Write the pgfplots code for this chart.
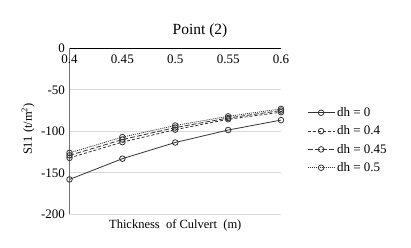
\documentclass[border=0pt]{standalone}
\usepackage{pgfplots}
\pgfplotsset{compat=1.18}
\usepackage{fontspec}
\setmainfont{Liberation Serif}
\begin{document}
\begin{tikzpicture}
\useasboundingbox (-69.5pt,-33.7pt) rectangle (341.5pt,214.3pt);
\begin{axis}[
  scale only axis,
  width=211.5pt, height=166pt,
  xmin=0.4, xmax=0.6, ymin=-200, ymax=0,
  axis x line*=top, axis y line*=left,
  x axis line style={-, black, line width=0.8pt},
  y axis line style={-, black!55, line width=1.3pt},
  xtick={0.4,0.45,0.5,0.55,0.6},
  xticklabels={0.4,0.45,0.5,0.55,0.6},
  ytick={-200,-150,-100,-50,0},
  yticklabels={-200,-150,-100,-50,0},
  major tick length=0pt,
  ymajorgrids, grid style={black!15, line width=0.8pt},
  tick label style={font=\fontsize{13}{15}\selectfont, text=black},
  xticklabel style={anchor=north, yshift=-3pt},
  yticklabel style={xshift=-1pt},
  every axis title shift=0pt,
  title={Point (2)},
  title style={font=\fontsize{15.5}{18}\selectfont, at={(0.617,1.108)}, anchor=center},
  xlabel={Thickness\ \ of Culvert\ \ (m)},
  xlabel style={font=\fontsize{12.5}{15}\selectfont, at={(0.5,-0.0645)}, anchor=center},
  ylabel={S11 (t/m\textsuperscript{2})},
  ylabel style={font=\fontsize{12.5}{15}\selectfont, at={(-0.196,0.514)}, anchor=center, rotate=0},
  legend style={draw=none, fill=none, font=\fontsize{13}{15}\selectfont,
    at={(rel axis cs:1,0.446)}, anchor=west, xshift=23pt, row sep=3.8pt},
  legend cell align=left,
  legend image code/.code={\draw[mark repeat=2,mark phase=2,#1] plot coordinates {(0pt,0pt) (13.5pt,0pt) (27pt,0pt)};},
  every axis plot/.append style={line width=0.8pt, mark=o, mark size=2.8pt},
]
\addplot[black!80, mark options={solid, fill=black!35, draw=black!80}] coordinates {
  (0.4,-158) (0.45,-133) (0.5,-113.5) (0.55,-98.5) (0.6,-86.5)};
\addlegendentry{dh = 0}
\addplot[black!80, dash pattern=on 3pt off 2pt, mark options={solid, fill=white, draw=black!80}] coordinates {
  (0.4,-132) (0.45,-113) (0.5,-98) (0.55,-85.5) (0.6,-77)};
\addlegendentry{dh = 0.4}
\addplot[black!80, dash pattern=on 5pt off 2pt, mark options={solid, fill=black!35, draw=black!80}] coordinates {
  (0.4,-129) (0.45,-110) (0.5,-95.5) (0.55,-84) (0.6,-75)};
\addlegendentry{dh = 0.45}
\addplot[black!80, dash pattern=on 1pt off 1pt, mark options={solid, fill=black!20, draw=black!80}] coordinates {
  (0.4,-126) (0.45,-107) (0.5,-93) (0.55,-82) (0.6,-73)};
\addlegendentry{dh = 0.5}
\end{axis}
\end{tikzpicture}
\end{document}
